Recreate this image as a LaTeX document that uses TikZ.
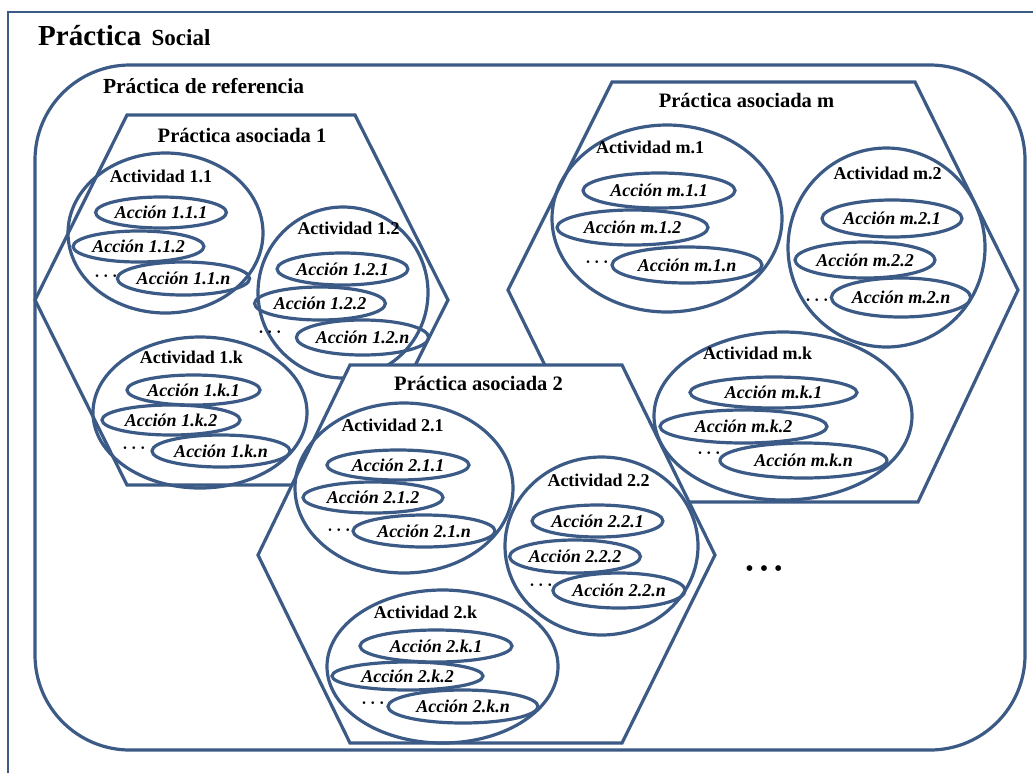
\documentclass[tikz,border=0pt]{standalone}
\usepackage{fontspec}
\setmainfont{Liberation Serif}
\definecolor{AzulBorde}{RGB}{60,90,134}
\usetikzlibrary{shapes.geometric}

\begin{document}
\begin{tikzpicture}[x=1pt, y=-1pt,
	act/.style={ellipse, draw=AzulBorde, line width=3.2pt, inner sep=0pt},
	acc/.style={ellipse, draw=AzulBorde, line width=3.2pt, inner sep=0pt, font=\fontsize{18}{20}\selectfont\bfseries\itshape},
	tit/.style={inner sep=0pt, font=\fontsize{18}{20}\selectfont\bfseries},
	pas/.style={inner sep=0pt, font=\fontsize{20.5}{22}\selectfont\bfseries},
	prac/.style={draw=AzulBorde, line width=3.2pt, fill=white, line join=miter},
	pts/.style={inner sep=0pt, font=\fontsize{17}{19}\selectfont\boldmath}]

	\useasboundingbox (0,0) rectangle (1033,772);
	\clip (0,0) rectangle (1033,772);
	\draw[draw=AzulBorde, line width=2.8pt] (8,12) rectangle (1050,800);

	\node[anchor=base west, inner sep=0pt, font=\fontsize{29}{30}\selectfont\bfseries] (tp) at (38,45) {Práctica};
	\node[anchor=base west, inner sep=0pt, font=\fontsize{23}{24}\selectfont\bfseries] (ts) at ([xshift=10pt]tp.base east) {Social};

	\draw[draw=AzulBorde, line width=3.2pt, rounded corners=95pt] (35,65) rectangle (1025,750);
	\node[inner sep=0pt, font=\fontsize{21.5}{23}\selectfont\bfseries] (pref) at (203.5,86) {Práctica de referencia};

	% práctica asociada 1
	\draw[prac] (127,115) -- (355,115) -- (448,300) -- (355,485) -- (127,485) -- (35,300) -- cycle;
	\node[pas] (pa1) at (242,135) {Práctica asociada 1};

	\node[act, minimum width=195, minimum height=160] (a11) at (165.5,233) {};
	\node[tit] (t11) at (161,176) {Actividad 1.1};
	\node[acc, minimum width=128, minimum height=31] (c111) at (161,212.5) {Acción 1.1.1};
	\node[acc, minimum width=127, minimum height=31] (c112) at (138.5,246.5) {Acción 1.1.2};
	\node[acc, minimum width=127, minimum height=33] (c11n) at (183.5,278.5) {Acción 1.1.n};
	\node[pts] (d11) at (106,276) {$\cdots$};

	\node[act, minimum width=170, minimum height=171] (a12) at (343,292.5) {};
	\node[tit] (t12) at (348.5,228) {Actividad 1.2};
	\node[acc, minimum width=119, minimum height=32] (c121) at (342.5,269) {Acción 1.2.1};
	\node[acc, minimum width=114, minimum height=33] (c122) at (320,303.5) {Acción 1.2.2};
	\node[acc, minimum width=115, minimum height=35] (c12n) at (362.5,337.5) {Acción 1.2.n};
	\node[pts] (d12) at (270,332) {$\cdots$};

	\node[act, minimum width=214, minimum height=151] (a1k) at (200,412.5) {};
	\node[tit] (t1k) at (191.5,357) {Actividad 1.k};
	\node[acc, minimum width=133, minimum height=30] (c1k1) at (193.5,390) {Acción 1.k.1};
	\node[acc, minimum width=138, minimum height=30] (c1k2) at (171,420) {Acción 1.k.2};
	\node[acc, minimum width=138, minimum height=32] (c1kn) at (221,451) {Acción 1.k.n};
	\node[pts] (d1k) at (134,448) {$\cdots$};

	% práctica asociada m (queda debajo de la 2)
	\draw[prac] (612,82) -- (915,82) -- (1018,290) -- (918,502) -- (612,502) -- (508,290) -- cycle;
	\node[pas] (pam) at (746.5,100) {Práctica asociada m};

	% práctica asociada 2
	\draw[prac] (350,365) -- (622,365) -- (715,555) -- (622,743) -- (350,743) -- (258,555) -- cycle;
	\node[pas] (pa2) at (478.5,383) {Práctica asociada 2};

	\node[act, minimum width=218, minimum height=170] (a21) at (404,488) {};
	\node[tit] (t21) at (392.5,425) {Actividad 2.1};
	\node[acc, minimum width=142, minimum height=30] (c211) at (398,465) {Acción 2.1.1};
	\node[acc, minimum width=140, minimum height=31] (c212) at (373,497.5) {Acción 2.1.2};
	\node[acc, minimum width=142, minimum height=32] (c21n) at (424,531) {Acción 2.1.n};
	\node[pts] (d21) at (339,530) {$\cdots$};

	\node[act, minimum width=193, minimum height=178] (a22) at (601.5,546) {};
	\node[tit] (t22) at (598.5,480) {Actividad 2.2};
	\node[acc, minimum width=129, minimum height=32] (c221) at (597.5,521) {Acción 2.2.1};
	\node[acc, minimum width=126, minimum height=33] (c222) at (575,556.5) {Acción 2.2.2};
	\node[acc, minimum width=128, minimum height=35] (c22n) at (619,590.5) {Acción 2.2.n};
	\node[pts] (d22) at (541,585) {$\cdots$};

	\node[act, minimum width=231, minimum height=153] (a2k) at (442.5,666.5) {};
	\node[tit] (t2k) at (425.5,612) {Actividad 2.k};
	\node[acc, minimum width=152, minimum height=32] (c2k1) at (436,646) {Acción 2.k.1};
	\node[acc, minimum width=151, minimum height=28] (c2k2) at (407.5,676) {Acción 2.k.2};
	\node[acc, minimum width=150, minimum height=33] (c2kn) at (463,706.5) {Acción 2.k.n};
	\node[pts] (d2k) at (373,703) {$\cdots$};

	% actividades de la práctica m
	\node[act, minimum width=230, minimum height=187] (am1) at (667,218.5) {};
	\node[tit] (tm1) at (650,147) {Actividad m.1};
	\node[acc, minimum width=152, minimum height=35] (cm11) at (659,190.5) {Acción m.1.1};
	\node[acc, minimum width=151, minimum height=35] (cm12) at (632.5,227.5) {Acción m.1.2};
	\node[acc, minimum width=150, minimum height=36] (cm1n) at (687,265) {Acción m.1.n};
	\node[pts] (dm1) at (597,262) {$\cdots$};

	\node[act, minimum width=197, minimum height=199] (am2) at (886.5,247.5) {};
	\node[tit] (tm2) at (887.5,173) {Actividad m.2};
	\node[acc, minimum width=140, minimum height=37] (cm21) at (892,218.5) {Acción m.2.1};
	\node[acc, minimum width=140, minimum height=36] (cm22) at (865,260) {Acción m.2.2};
	\node[acc, minimum width=138, minimum height=39] (cm2n) at (901,297.5) {Acción m.2.n};
	\node[pts] (dm2) at (817,300) {$\cdots$};

	\node[act, minimum width=258, minimum height=168] (amk) at (783,416) {};
	\node[tit] (tmk) at (757.5,353) {Actividad m.k};
	\node[acc, minimum width=167, minimum height=31] (cmk1) at (773.5,392.5) {Acción m.k.1};
	\node[acc, minimum width=167, minimum height=33] (cmk2) at (743.5,426.5) {Acción m.k.2};
	\node[acc, minimum width=167, minimum height=35] (cmkn) at (803.5,460.5) {Acción m.k.n};
	\node[pts] (dmk) at (709,453) {$\cdots$};

	\node[pts, font=\fontsize{24}{26}\selectfont] (mas) at (764,571) {• • •};
\end{tikzpicture}
\end{document}
